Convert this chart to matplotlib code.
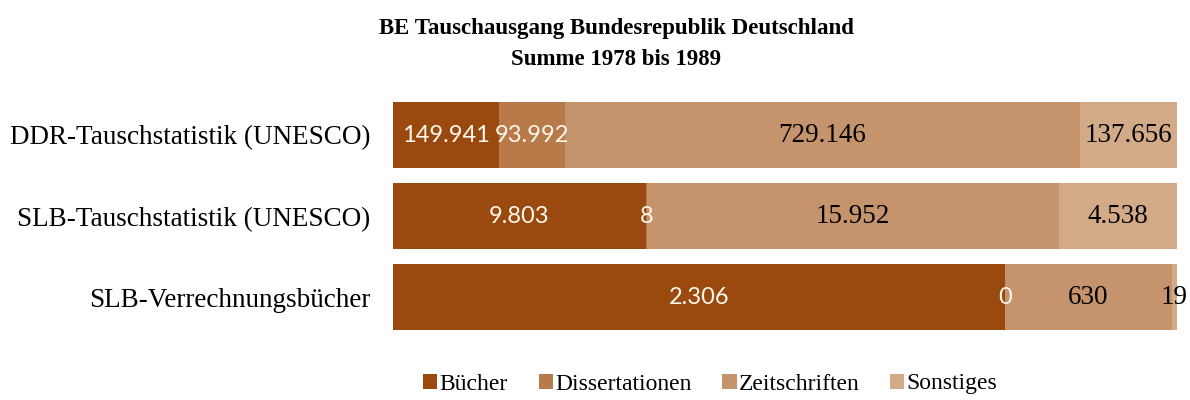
import matplotlib
matplotlib.use("Agg")
import matplotlib.pyplot as plt
import numpy as np

categories = ["DDR-Tauschstatistik (UNESCO)", "SLB-Tauschstatistik (UNESCO)", "SLB-Verrechnungsbücher"]
series_names = ["Bücher", "Dissertationen", "Zeitschriften", "Sonstiges"]
buecher = [149941, 9803, 2306]
dissertationen = [93992, 8, 0]
zeitschriften = [729146, 15952, 630]
sonstiges = [137656, 4538, 19]
colors = ["#9A4A0E", "#B97A4A", "#C5936C", "#D3AA88"]
label_colors = ["white", "white", "black", "black"]

series = [buecher, dissertationen, zeitschriften, sonstiges]
vals = np.array(series, dtype=float)
totals = vals.sum(axis=0)
pct = vals / totals * 100

serif = ["Liberation Serif", "DejaVu Serif"]
sans = ["Lato", "DejaVu Sans"]

fig = plt.figure(figsize=(11.9, 4.0), dpi=100)
ax = fig.add_axes([0.330, 0.155, 0.659, 0.609])

y = np.arange(len(categories))
left = np.zeros(len(categories))
for i, name in enumerate(series_names):
    ax.barh(y, pct[i], left=left, height=0.815, color=colors[i], label=name, edgecolor="none")
    for j in range(len(categories)):
        xc = left[j] + pct[i][j] / 2
        txt = f"{int(vals[i][j]):,}".replace(",", ".")
        if label_colors[i] == "white":
            ax.text(xc, y[j], txt, ha="center", va="center", color="#FFF8EE",
                    fontsize=17, family=sans)
        else:
            ax.text(xc, y[j], txt, ha="center", va="center", color="black",
                    fontsize=19.5, family=serif)
    left += pct[i]

ax.set_xlim(0, 100)
ax.set_ylim(len(categories) - 0.5, -0.5)
ax.set_yticks(y)
ax.set_yticklabels(categories, family=serif, fontsize=19.5)
ax.tick_params(axis="y", length=0, pad=16)
ax.set_xticks([])
for s in ax.spines.values():
    s.set_visible(False)

fig.text(0.518, 0.89, "BE Tauschausgang Bundesrepublik Deutschland\nSumme 1978 bis 1989",
         ha="center", va="center", fontsize=16.5, fontweight="bold", family=serif,
         linespacing=1.6)

fig.legend(loc="center", bbox_to_anchor=(0.597, 0.04), ncol=4, frameon=False,
           prop={"family": serif, "size": 17}, handlelength=0.6, handleheight=0.6,
           handletextpad=0.1, columnspacing=1.3)

fig.savefig("out.png", dpi=100)
